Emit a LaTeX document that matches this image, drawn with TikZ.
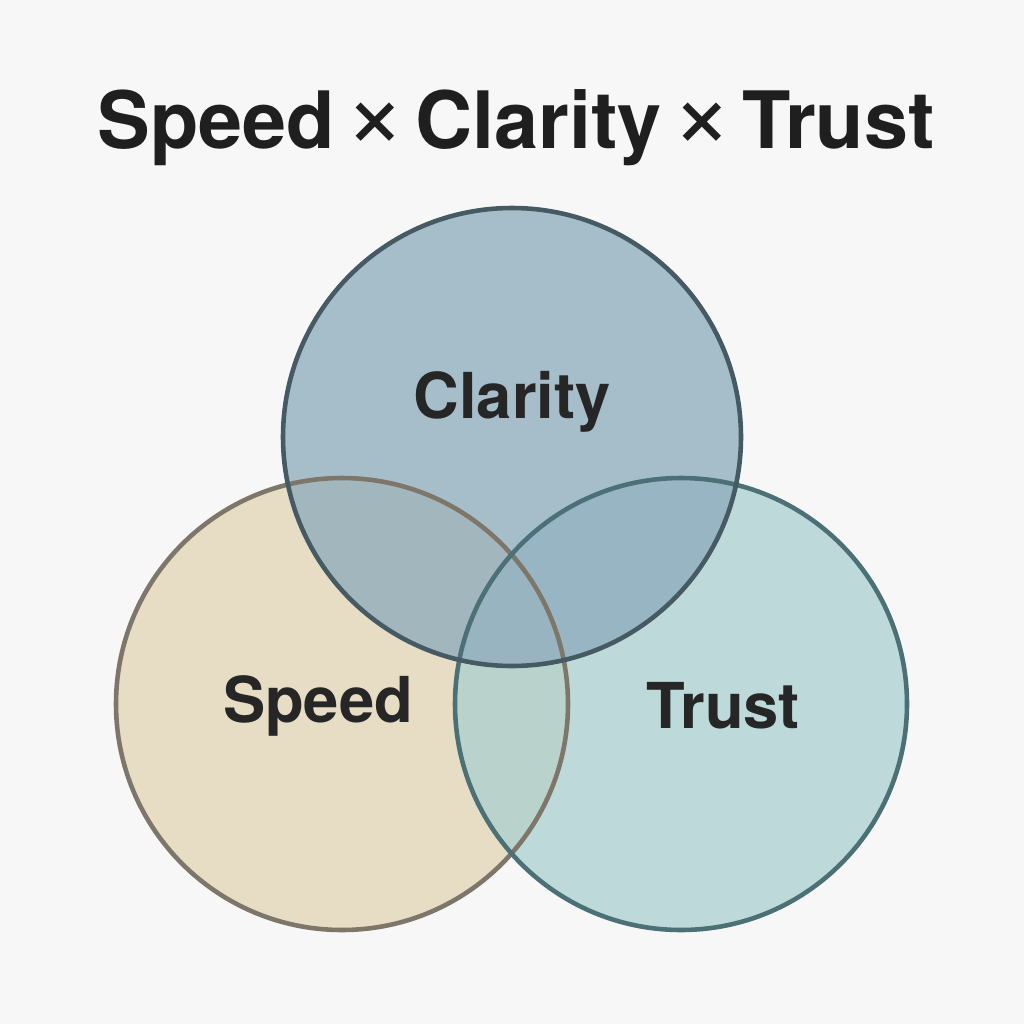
\documentclass[tikz,border=0pt]{standalone}
\usepackage{fontspec}
\setmainfont{TeX Gyre Heros}
\newcommand{\mytimes}{\hspace{0.12em}{\mdseries\fontsize{30pt}{30pt}\selectfont ×}\hspace{0.12em}}
\begin{document}
\begin{tikzpicture}[x=0.01cm,y=-0.01cm,
  lbl/.style={font=\bfseries\fontsize{18pt}{20pt}\selectfont, text=black!85},
  circ/.style={fill opacity=0.75, line width=1.2pt}]
\fill[black!3] (0,0) rectangle (1024,1024);
\useasboundingbox (0,0) rectangle (1024,1024);
\node[font=\bfseries\fontsize{22.5pt}{24pt}\selectfont, text=black!88] (title) at (516,128) {Speed\mytimes Clarity\mytimes Trust};
\fill[circ, fill={rgb,255:red,226;green,211;blue,180}] (342,704) circle (226);
\fill[circ, fill={rgb,255:red,170;green,208;blue,208}] (681,704) circle (226);
\fill[circ, fill={rgb,255:red,140;green,170;blue,188}] (512,437) circle (229);
\draw[line width=1.3pt, draw={rgb,255:red,125;green,118;blue,105}] (342,704) circle (226);
\draw[line width=1.3pt, draw={rgb,255:red,75;green,112;blue,118}] (681,704) circle (226);
\draw[line width=1.3pt, draw={rgb,255:red,70;green,90;blue,100}] (512,437) circle (229);
\node[lbl] (clarity) at (512,402) {Clarity};
\node[lbl] (speed) at (318,706) {Speed};
\node[lbl] (trust) at (723,706) {Trust};
\end{tikzpicture}
\end{document}
